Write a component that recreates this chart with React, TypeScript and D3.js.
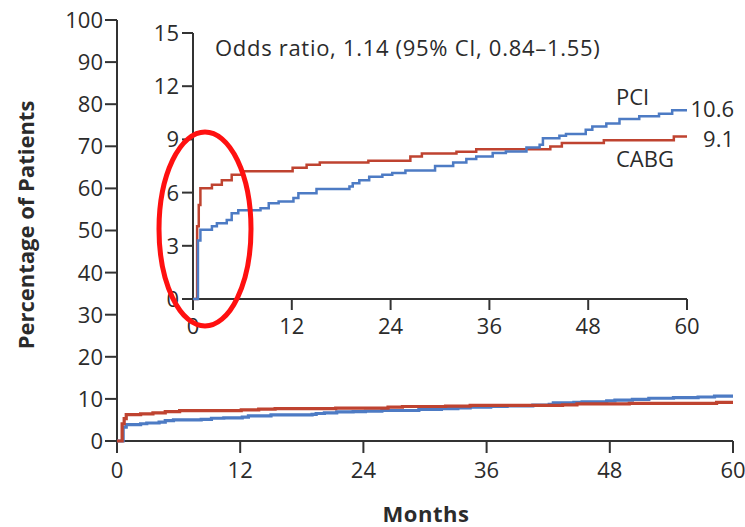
import React from "react";
import * as d3 from "d3";

// ---- Data ----
const pciMonths = [0, 0.6, 0.6, 0.9, 2.3, 2.9, 4.1, 4.7, 5.5, 8.2, 9.2, 10.4, 12.2, 12.8, 15, 19, 19.4, 20.2, 21.4, 23, 24.2, 25.8, 29.4, 31.6, 33.2, 34.4, 36.4, 38, 40.5, 42.1, 42.5, 44.5, 45.3, 47.7, 48.5, 50.2, 51.8, 54.2, 56.6, 58.2, 60];
const pciValues = [0, 0, 3.3, 3.9, 4.1, 4.27, 4.46, 4.84, 5.0, 5.12, 5.4, 5.5, 5.69, 5.97, 6.2, 6.34, 6.53, 6.7, 6.9, 7.0, 7.1, 7.25, 7.5, 7.7, 7.89, 8.04, 8.23, 8.32, 8.55, 8.7, 9.07, 9.2, 9.3, 9.55, 9.73, 9.89, 10.15, 10.3, 10.45, 10.64, 10.64];
const cabgMonths = [0, 0.5, 0.5, 0.7, 0.9, 2.3, 3.5, 4.7, 6.1, 12.1, 13.8, 15.4, 21.3, 26.4, 27.8, 32, 34.4, 43.4, 44.8, 49.9, 58.4, 60];
const cabgValues = [0, 0, 4.1, 5.3, 6.25, 6.44, 6.7, 7.0, 7.2, 7.4, 7.57, 7.7, 7.8, 8.04, 8.2, 8.3, 8.45, 8.6, 8.8, 8.95, 9.17, 9.17];

const mainYTicks = [0, 10, 20, 30, 40, 50, 60, 70, 80, 90, 100];
const insetYTicks = [0, 3, 6, 9, 12, 15];
const xTicks = [0, 12, 24, 36, 48, 60];

const pciLabel = "PCI";
const cabgLabel = "CABG";
const pciFinal = "10.6";
const cabgFinal = "9.1";
const oddsText = "Odds ratio, 1.14 (95% CI, 0.84\u20131.55)";
const yTitle = "Percentage of Patients";
const xTitle = "Months";

const BLUE = "#4d7bc4";
const RED = "#bf4330";
const AXIS = "#333";
const TEXT = "#2b2b2b";
const FONT = "'Open Sans', 'Noto Sans', sans-serif";

export default function App() {
  const pci = pciMonths.map((m, i) => [m, pciValues[i]] as [number, number]);
  const cabg = cabgMonths.map((m, i) => [m, cabgValues[i]] as [number, number]);

  // main chart scales
  const mx = d3.scaleLinear().domain([0, 60]).range([117, 733]);
  const my = d3.scaleLinear().domain([0, 100]).range([441, 20]);
  // inset scales
  const ix = d3.scaleLinear().domain([0, 60]).range([193, 687]);
  const iy = d3.scaleLinear().domain([0, 15]).range([299, 33]);

  const mainLine = d3.line<[number, number]>().x(d => mx(d[0])).y(d => my(d[1])).curve(d3.curveStepAfter);
  const insetLine = d3.line<[number, number]>().x(d => ix(d[0])).y(d => iy(d[1])).curve(d3.curveStepAfter);

  const fs = 22;
  const ls = 0.7;

  return (
    <svg width={745} height={527} style={{ position: "absolute", left: 0, top: 0, background: "#fff" }} fontFamily={FONT}>
      <rect x={0} y={0} width={745} height={527} fill="#fff" />

      {/* Main axes */}
      <line x1={mx(0)} x2={mx(0)} y1={my(100)} y2={my(0) + 12} stroke={AXIS} strokeWidth={2} />
      <line x1={mx(0)} x2={mx(60)} y1={my(0)} y2={my(0)} stroke={AXIS} strokeWidth={2} />
      {mainYTicks.map(t => (
        <g key={"my" + t}>
          <line x1={mx(0) - 12} x2={mx(0)} y1={my(t)} y2={my(t)} stroke={AXIS} strokeWidth={2} />
          <text x={mx(0) - 14} y={my(t)} dy="0.36em" textAnchor="end" fontSize={fs} fill={TEXT}>{t}</text>
        </g>
      ))}
      {xTicks.map(t => (
        <g key={"mx" + t}>
          <line x1={mx(t)} x2={mx(t)} y1={my(0)} y2={my(0) + 12} stroke={AXIS} strokeWidth={2} />
          <text x={mx(t)} y={478} textAnchor="middle" fontSize={fs} fill={TEXT}>{t}</text>
        </g>
      ))}
      <text transform={`translate(34,${225}) rotate(-90)`} textAnchor="middle" fontSize={22} fontWeight="bold" fill={TEXT}>{yTitle}</text>
      <text x={426} y={522} textAnchor="middle" fontSize={22} fontWeight="bold" letterSpacing={0.5} fill={TEXT}>{xTitle}</text>

      {/* Main curves */}
      <path d={mainLine(pci) || ""} fill="none" stroke={BLUE} strokeWidth={3.2} />
      <path d={mainLine(cabg) || ""} fill="none" stroke={RED} strokeWidth={3.2} />

      {/* Inset axes */}
      <line x1={ix(0)} x2={ix(0)} y1={iy(15)} y2={iy(0) + 11} stroke={AXIS} strokeWidth={2} />
      <line x1={ix(0) - 11} x2={ix(60)} y1={iy(0)} y2={iy(0)} stroke={AXIS} strokeWidth={2} />
      {insetYTicks.map(t => (
        <g key={"iy" + t}>
          <line x1={ix(0) - 11} x2={ix(0)} y1={iy(t)} y2={iy(t)} stroke={AXIS} strokeWidth={2} />
          <text x={ix(0) - 14} y={iy(t)} dy="0.36em" textAnchor="end" fontSize={fs} fill={TEXT}>{t}</text>
        </g>
      ))}
      {xTicks.map(t => (
        <g key={"ix" + t}>
          <line x1={ix(t)} x2={ix(t)} y1={iy(0)} y2={iy(0) + 11} stroke={AXIS} strokeWidth={2} />
          <text x={ix(t)} y={334} textAnchor="middle" fontSize={fs} fill={TEXT}>{t}</text>
        </g>
      ))}
      <text x={215} y={56} fontSize={fs} letterSpacing={ls} fill={TEXT}>{oddsText}</text>

      {/* Inset curves */}
      <path d={insetLine(cabg) || ""} fill="none" stroke={RED} strokeWidth={2.5} />
      <path d={insetLine(pci) || ""} fill="none" stroke={BLUE} strokeWidth={2.5} />

      <text x={616} y={105} fontSize={fs} fill={TEXT}>{pciLabel}</text>
      <text x={734} y={117} textAnchor="end" fontSize={fs} fill={TEXT}>{pciFinal}</text>
      <text x={734} y={147} textAnchor="end" fontSize={fs} fill={TEXT}>{cabgFinal}</text>
      <text x={616} y={167} fontSize={fs} fill={TEXT}>{cabgLabel}</text>

      {/* Red highlight ellipse */}
      <ellipse cx={205} cy={229} rx={46} ry={97} fill="none" stroke="#ff1010" strokeWidth={5} />
    </svg>
  );
}
